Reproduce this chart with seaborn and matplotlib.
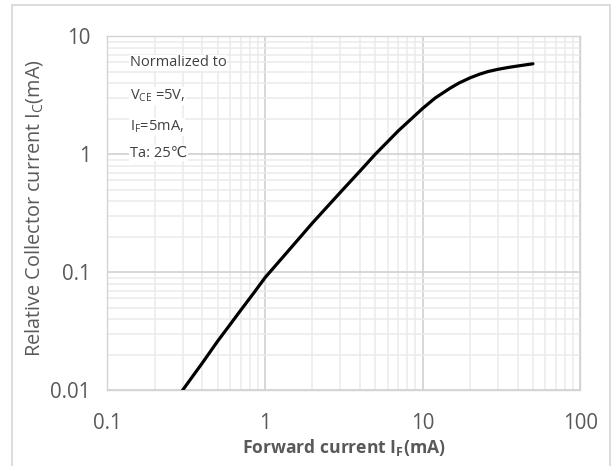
import matplotlib
matplotlib.use("Agg")
import matplotlib.pyplot as plt
import matplotlib.ticker as mticker
from matplotlib.patches import Rectangle
import seaborn as sns
import pandas as pd

# Data
forward_current_mA = [0.3, 0.35, 0.4, 0.5, 0.6, 0.7, 0.85, 1, 1.5, 2, 3, 4, 5, 7, 10,
                      12, 15, 17, 20, 23, 26, 30, 35, 40, 50]
relative_ic = [0.01, 0.0133, 0.017, 0.026, 0.036, 0.0475, 0.067, 0.09, 0.168, 0.262, 0.475,
               0.72, 1.0, 1.58, 2.45, 3.0, 3.65, 4.02, 4.45, 4.78, 5.03, 5.25, 5.45, 5.6, 5.85]
x_ticks = [0.1, 1, 10, 100]
x_tick_labels = ["0.1", "1", "10", "100"]
y_ticks = [0.01, 0.1, 1, 10]
y_tick_labels = ["0.01", "0.1", "1", "10"]
note_lines = ["Normalized to", r"V$_\mathregular{CE}$ =5V,", r"I$_\mathregular{F}$=5mA,", "Ta: 25℃"]

df = pd.DataFrame({"IF": forward_current_mA, "IC": relative_ic})

sns.set_style("white")
plt.rcParams["font.family"] = ["Open Sans", "DejaVu Sans"]
plt.rcParams["mathtext.fontset"] = "custom"
plt.rcParams["mathtext.rm"] = "Open Sans"
plt.rcParams["mathtext.bf"] = "Open Sans:bold"

fig = plt.figure(figsize=(6.12, 4.66), dpi=100)
ax = fig.add_axes([107.3 / 612, 1 - 390.3 / 466, (580.4 - 107.3) / 612, (390.3 - 36.3) / 466])

sns.lineplot(data=df, x="IF", y="IC", ax=ax, color="black", linewidth=2.3, zorder=5)

ax.set_xscale("log")
ax.set_yscale("log")
ax.set_xlim(0.1, 100)
ax.set_ylim(0.01, 10)

ax.xaxis.set_major_locator(mticker.FixedLocator(x_ticks))
ax.xaxis.set_major_formatter(mticker.FixedFormatter(x_tick_labels))
ax.yaxis.set_major_locator(mticker.FixedLocator(y_ticks))
ax.yaxis.set_major_formatter(mticker.FixedFormatter(y_tick_labels))
ax.xaxis.set_minor_locator(mticker.LogLocator(base=10, subs=range(2, 10), numticks=20))
ax.yaxis.set_minor_locator(mticker.LogLocator(base=10, subs=range(2, 10), numticks=20))
ax.xaxis.set_minor_formatter(mticker.NullFormatter())
ax.yaxis.set_minor_formatter(mticker.NullFormatter())

ax.grid(which="major", color="#d4d4d4", linewidth=1.3)
ax.grid(which="minor", color="#ebebeb", linewidth=1.1)
ax.set_axisbelow(True)

ax.tick_params(which="both", length=0, labelsize=14.8, labelcolor="#595959")
ax.tick_params(axis="y", pad=12)
ax.tick_params(axis="x", pad=16)
for side in ["top", "right", "left", "bottom"]:
    ax.spines[side].set_color("#d4d4d4")
    ax.spines[side].set_linewidth(1.0)

ax.set_xlabel(r"Forward current I$_\mathregular{F}$(mA)", fontsize=12.6, fontweight="bold",
              color="#595959")
ax.xaxis.set_label_coords(0.5, (390.3 - 448) / 354)
ax.xaxis.label.set_verticalalignment("center")
ax.set_ylabel(r"Relative Collector current I$_\mathregular{C}$(mA)", fontsize=14.3,
              color="#595959")
ax.yaxis.set_label_coords((34 - 107.3) / 473.1, (390.3 - 208) / 354)
ax.yaxis.label.set_verticalalignment("center")

note_y = [63, 96, 127, 153]
for line, yp in zip(note_lines, note_y):
    ax.text(130 / 612, 1 - yp / 466, line, transform=fig.transFigure, fontsize=10.5,
            color="#404040", va="center", ha="left",
            bbox=dict(facecolor="white", edgecolor="none", pad=0.5))

fig.patches.append(Rectangle((12 / 612, -0.05), (610 - 12) / 612, 1 - 5 / 466 + 0.05,
                             transform=fig.transFigure, fill=False,
                             edgecolor="#d9d9d9", linewidth=1.3))

fig.savefig("out.png", dpi=100, facecolor="white")
